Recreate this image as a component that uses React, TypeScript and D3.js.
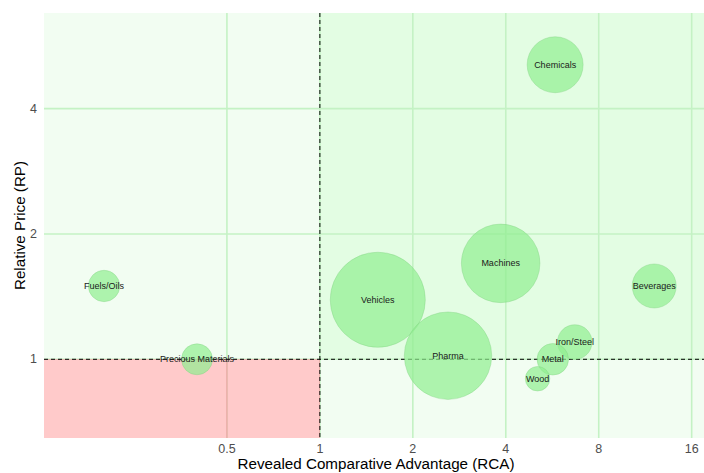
import React from "react";
import * as d3 from "d3";

// Product groups: revealed comparative advantage vs relative price
const categories = [
  "Chemicals",
  "Fuels/Oils",
  "Precious Materials",
  "Vehicles",
  "Machines",
  "Beverages",
  "Pharma",
  "Iron/Steel",
  "Metal",
  "Wood",
];
const rca = [5.78, 0.2, 0.4, 1.54, 3.85, 12.1, 2.6, 6.69, 5.68, 5.07];
const rp = [5.1, 1.5, 1.0, 1.39, 1.7, 1.5, 1.02, 1.1, 1.0, 0.898];
const tradeVolume = [34, 10.7, 10.4, 98, 67, 21, 83, 13, 10.8, 6.5];

const xTicks = [0.5, 1, 2, 4, 8, 16];
const yTicks = [1, 2, 4];

const W = 704;
const H = 473;
const left = 44;
const right = 704;
const top = 13;
const bottom = 438;

export default function App() {
  const x = d3.scaleLog().base(2).domain([0.1278, 17.54]).range([left, right]);
  const y = d3.scaleLog().base(2).domain([0.647, 6.79]).range([bottom, top]);
  const r = d3.scaleSqrt().domain([0, 100]).range([0, 48]);

  const x1 = x(1);
  const y1 = y(1);
  const font = "Liberation Sans, Arial, sans-serif";

  const gridLines = (color: string) => (
    <g stroke={color} strokeWidth={1.6}>
      {xTicks.map((t) => (
        <line key={"gx" + t} x1={x(t)} x2={x(t)} y1={top} y2={bottom} />
      ))}
      {yTicks.map((t) => (
        <line key={"gy" + t} x1={left} x2={right} y1={y(t)} y2={y(t)} />
      ))}
    </g>
  );

  return (
    <svg
      width={W}
      height={H}
      style={{ position: "absolute", left: 0, top: 0, background: "#ffffff" }}
      fontFamily={font}
    >
      <defs>
        <clipPath id="lowQuad">
          <rect x={left} y={y1} width={x1 - left} height={bottom - y1} />
        </clipPath>
        <clipPath id="panel">
          <rect x={left} y={top} width={right - left} height={bottom - top} />
        </clipPath>
      </defs>

      {/* quadrant backgrounds */}
      <rect x={left} y={top} width={x1 - left} height={y1 - top} fill="#f2fdf2" />
      <rect x={x1} y={top} width={right - x1} height={y1 - top} fill="#e3fde3" />
      <rect x={x1} y={y1} width={right - x1} height={bottom - y1} fill="#f2fdf2" />
      <rect x={left} y={y1} width={x1 - left} height={bottom - y1} fill="#ffcaca" />

      {/* grid */}
      {gridLines("#c4f2c4")}
      <g clipPath="url(#lowQuad)">{gridLines("#f2a9a9")}</g>

      {/* reference lines */}
      <line x1={x1} x2={x1} y1={top} y2={bottom} stroke="#000" strokeWidth={1} strokeDasharray="4,3" />
      <line x1={left} x2={right} y1={y1} y2={y1} stroke="#000" strokeWidth={1} strokeDasharray="4,3" />

      {/* bubbles */}
      <g clipPath="url(#panel)">
        {categories.map((c, i) => (
          <circle
            key={c}
            cx={x(rca[i])}
            cy={y(rp[i])}
            r={r(tradeVolume[i])}
            fill="#90ee90"
            fillOpacity={0.7}
            stroke="#7fcf7f"
            strokeOpacity={0.45}
            strokeWidth={0.8}
          />
        ))}
        {categories.map((c, i) => (
          <text
            key={"t" + c}
            x={x(rca[i])}
            y={y(rp[i])}
            textAnchor="middle"
            dominantBaseline="central"
            fontSize={9}
            fill="#1a1a1a"
          >
            {c}
          </text>
        ))}
      </g>

      {/* axis tick labels */}
      {xTicks.map((t) => (
        <text key={"xl" + t} x={x(t)} y={452.5} textAnchor="middle" fontSize={12.5} fill="#4d4d4d">
          {t}
        </text>
      ))}
      {yTicks.map((t) => (
        <text
          key={"yl" + t}
          x={37}
          y={y(t)}
          textAnchor="end"
          dominantBaseline="central"
          fontSize={12.5}
          fill="#4d4d4d"
        >
          {t}
        </text>
      ))}

      {/* axis titles */}
      <text x={(left + right) / 2 + 2} y={469} textAnchor="middle" fontSize={15.2} fill="#000">
        Revealed Comparative Advantage (RCA)
      </text>
      <text
        transform={`translate(25,${(top + bottom) / 2}) rotate(-90)`}
        textAnchor="middle"
        fontSize={15.2}
        fill="#000"
      >
        Relative Price (RP)
      </text>
    </svg>
  );
}
